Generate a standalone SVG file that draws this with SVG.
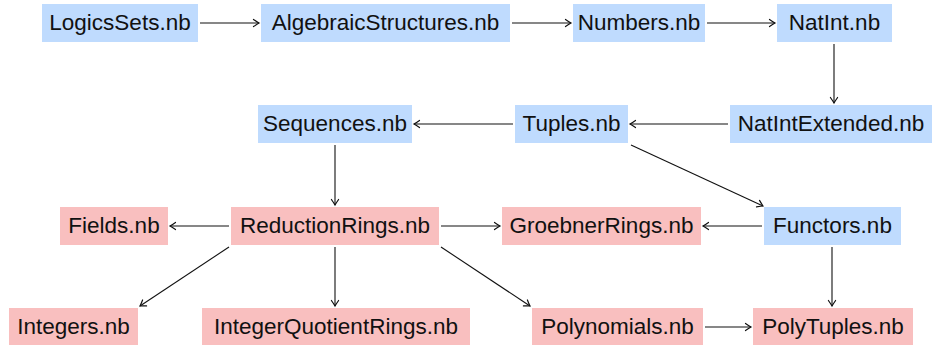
<svg xmlns="http://www.w3.org/2000/svg" width="935" height="345" viewBox="0 0 935 345">
<defs>
<style>
.blue{fill:#bfdbfe}
.pink{fill:#f9bfbf}
text{font-family:"Liberation Sans","DejaVu Sans",sans-serif;font-size:22.5px;fill:#111;text-anchor:middle}
.c line{stroke:#111;stroke-width:1.1;fill:none;marker-end:url(#ah)}
</style>
<marker id="ah" viewBox="-8 -5 10 10" refX="0" refY="0" markerWidth="10" markerHeight="10" markerUnits="userSpaceOnUse" orient="auto">
<path d="M-5.5,-3.6 Q-1.5,-0.8 0,0 Q-1.5,0.8 -5.5,3.6" fill="none" stroke="#111" stroke-width="1.2" stroke-linecap="round"/>
</marker>
</defs>
<rect width="935" height="345" fill="#fff"/>
<g id="LogicsSets"><rect class="blue" x="42" y="4" width="156" height="38"/><text x="120" y="30">LogicsSets.nb</text></g>
<g id="AlgebraicStructures"><rect class="blue" x="261" y="4" width="249" height="38"/><text x="385.5" y="30">AlgebraicStructures.nb</text></g>
<g id="Numbers"><rect class="blue" x="573" y="4" width="132" height="38"/><text x="639" y="30">Numbers.nb</text></g>
<g id="NatInt"><rect class="blue" x="777" y="4" width="115" height="38"/><text x="834.5" y="30">NatInt.nb</text></g>
<g id="Sequences"><rect class="blue" x="258" y="105" width="154" height="38"/><text x="335" y="131">Sequences.nb</text></g>
<g id="Tuples"><rect class="blue" x="515" y="105" width="113" height="38"/><text x="571.5" y="131">Tuples.nb</text></g>
<g id="NatIntExtended"><rect class="blue" x="730" y="105" width="202" height="38"/><text x="831" y="131">NatIntExtended.nb</text></g>
<g id="Fields"><rect class="pink" x="60" y="207" width="108" height="38"/><text x="114" y="233">Fields.nb</text></g>
<g id="ReductionRings"><rect class="pink" x="231" y="207" width="208" height="38"/><text x="335" y="233">ReductionRings.nb</text></g>
<g id="GroebnerRings"><rect class="pink" x="502" y="207" width="199" height="38"/><text x="601.5" y="233">GroebnerRings.nb</text></g>
<g id="Functors"><rect class="blue" x="764" y="207" width="137" height="38"/><text x="832.5" y="233">Functors.nb</text></g>
<g id="Integers"><rect class="pink" x="9" y="308" width="129" height="38"/><text x="73.5" y="334">Integers.nb</text></g>
<g id="IntegerQuotientRings"><rect class="pink" x="202" y="308" width="268" height="38"/><text x="336" y="334">IntegerQuotientRings.nb</text></g>
<g id="Polynomials"><rect class="pink" x="532" y="308" width="171" height="38"/><text x="617.5" y="334">Polynomials.nb</text></g>
<g id="PolyTuples"><rect class="pink" x="753" y="308" width="160" height="38"/><text x="833" y="334">PolyTuples.nb</text></g>
<g id="connectors" class="c">
<line x1="200" y1="23" x2="259" y2="23"/>
<line x1="512" y1="23" x2="571" y2="23"/>
<line x1="707" y1="23" x2="775" y2="23"/>
<line x1="834" y1="44" x2="834" y2="103"/>
<line x1="728" y1="124" x2="630" y2="124"/>
<line x1="513" y1="124" x2="414" y2="124"/>
<line x1="335" y1="145" x2="335" y2="205"/>
<line x1="631" y1="145" x2="763" y2="206"/>
<line x1="229" y1="226" x2="170" y2="226"/>
<line x1="441" y1="226" x2="500" y2="226"/>
<line x1="762" y1="226" x2="703" y2="226"/>
<line x1="229" y1="247" x2="140" y2="306"/>
<line x1="335" y1="247" x2="335" y2="306"/>
<line x1="441" y1="247" x2="530" y2="306"/>
<line x1="832" y1="247" x2="832" y2="306"/>
<line x1="705" y1="327" x2="751" y2="327"/>
</g>
</svg>
